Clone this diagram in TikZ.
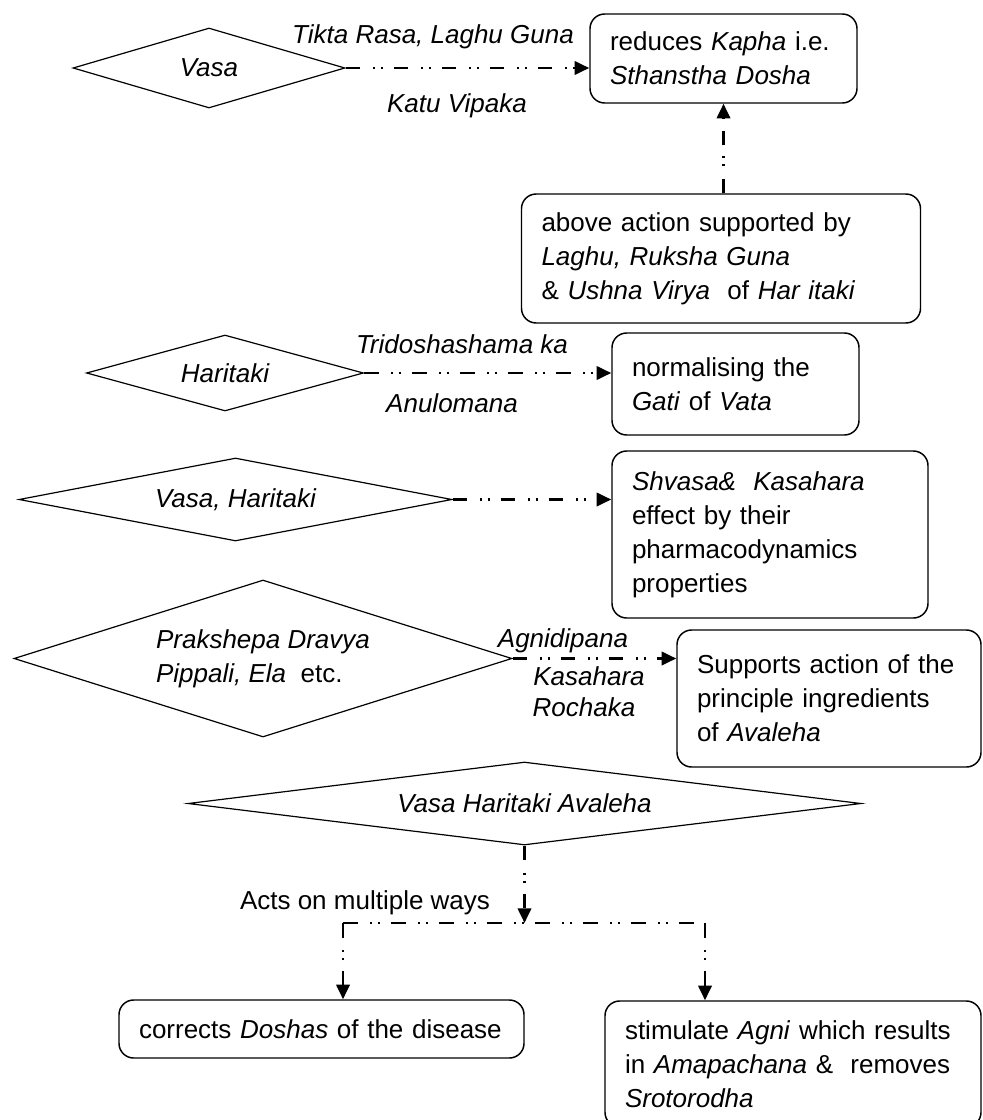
\documentclass[tikz,border=0pt]{standalone}
\usepackage{fontspec}
\setmainfont{Liberation Sans}
\usetikzlibrary{shapes.geometric,arrows.meta}

\begin{document}
\begin{tikzpicture}[x=0.75pt,y=-0.75pt,>={Triangle[length=11pt,width=10pt]},
      font=\fontsize{19.5}{25.5}\selectfont,
      rbox/.style={draw,rounded corners=11pt,line width=1.1pt,align=left,
        inner xsep=15pt,inner ysep=0pt},
      dia/.style={draw,diamond,line width=0.9pt,inner sep=0pt,align=left,
        font=\fontsize{19.5}{25.5}\selectfont\itshape},
      flowlabel/.style={inner sep=0pt,font=\fontsize{19.5}{25.5}\selectfont\itshape},
      flow/.style={->,line width=2pt,
        dash pattern=on 11pt off 9.5pt on 1.5pt off 4.5pt on 1.5pt off 8pt}]
      \useasboundingbox (0,0) rectangle (982,1120);

      % diamonds
      \node[dia,aspect=3.4,minimum width=204pt,minimum height=60pt] (vasa) at (209,68) {Vasa};
      \node[dia,aspect=3.64,minimum width=207.75pt,minimum height=57pt] (har) at (225,373) {Haritaki};
      \node[dia,aspect=5.2,minimum width=324.75pt,minimum height=62.25pt] (vh) at (235.5,499.5) {Vasa, Haritaki};
      \node[dia,aspect=3.17,minimum width=373.5pt,minimum height=117.75pt] (pd) at (263,658.5)
        {Prakshepa Dravya\\Pippali, Ela\ \ {\upshape etc.}};
      \node[dia,aspect=8.1,minimum width=504.75pt,minimum height=62.25pt] (vha) at (524.5,803.5)
        {Vasa Haritaki Avaleha};

      % boxes
      \node[rbox,text width=170.25pt,minimum height=66.75pt] (kapha) at (723.5,58.5)
        {reduces \textit{Kapha} i.e.\\\textit{Sthanstha Dosha}};
      \node[rbox,text width=269.25pt,minimum height=96.75pt] (guna) at (721,258.5)
        {above action supported by\\\textit{Laghu, Ruksha Guna}\\\& \textit{Ushna Virya}\ \ of \textit{Har itaki}};
      \node[rbox,text width=155.25pt,minimum height=76.5pt] (gati) at (735.5,384)
        {normalising the\\\textit{Gati} of \textit{Vata}};
      \node[rbox,text width=207pt,minimum height=125.25pt] (kasa) at (770,534.5)
        {\textit{Shvasa\&\ \ Kasahara}\\effect by their\\pharmacodynamics\\properties};
      \node[rbox,text width=198pt,minimum height=102.75pt] (supp) at (829,698.5)
        {Supports action of the\\principle ingredients\\of \textit{Avaleha}};
      \node[rbox,text width=273.75pt,minimum height=43.5pt] (dosha) at (321.5,1029)
        {corrects \textit{Doshas} of the disease};
      \node[rbox,text width=252pt,minimum height=94.5pt] (agni) at (793,1064)
        {stimulate \textit{Agni} which results\\in \textit{Amapachana} \&\ \ removes\\\textit{Srotorodha}};

      % labels
      \node[flowlabel] (l1) at (433,37) {Tikta Rasa, Laghu Guna};
      \node[flowlabel] (l2) at (457,106) {Katu Vipaka};
      \node[flowlabel] (l3) at (462,344) {Tridoshashama ka};
      \node[flowlabel] (l4) at (452,403) {Anulomana};
      \node[flowlabel] (l5) at (563,641) {Agnidipana};
      \node[flowlabel] (l6) at (589,676) {Kasahara};
      \node[flowlabel] (l7) at (584,707) {Rochaka};
      \node[inner sep=0pt] (l8) at (365,903) {Acts on multiple ways};

      \coordinate (jn) at (524.5,923);
      \coordinate (jl) at (343,923);
      \coordinate (jr) at (705,923);

      % connectors
      \draw[flow] (vasa.east) -- (vasa.east -| kapha.west);
      \draw[flow] (kapha.south |- guna.north) -- (kapha.south);
      \draw[flow] (har.east) -- (har.east -| gati.west);
      \draw[flow] (vh.east) -- (vh.east -| kasa.west);
      \draw[flow] (pd.east) -- (pd.east -| supp.west);
      \draw[flow] (vha.south) -- (jn);
      \draw[flow,-] (jl) -- (jr);
      \draw[flow] (jl) -- (jl |- dosha.north);
      \draw[flow] (jr) -- (jr |- agni.north);
\end{tikzpicture}
\end{document}
